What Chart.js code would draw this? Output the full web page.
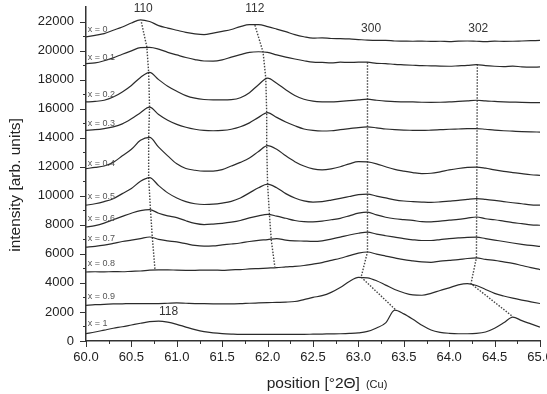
<!DOCTYPE html>
<html><head><meta charset="utf-8">
<script src="https://cdn.jsdelivr.net/npm/chart.js@4/dist/chart.umd.min.js"></script>
<style>html,body{margin:0;padding:0;background:#fff}canvas{display:block}</style>
</head><body>
<canvas id="c" width="547" height="394"></canvas>
<script>
// ---- DATA ----
const positions = [60.0,60.1,60.2,60.3,60.4,60.5,60.6,60.7,60.8,60.9,
  61.0,61.1,61.2,61.3,61.4,61.5,61.6,61.7,61.8,61.9,
  62.0,62.1,62.2,62.3,62.4,62.5,62.6,62.7,62.8,62.9,
  63.0,63.1,63.2,63.3,63.4,63.5,63.6,63.7,63.8,63.9,
  64.0,64.1,64.2,64.3,64.4,64.5,64.6,64.7,64.8,64.9,65.0];

const seriesLabels = ['x = 0','x = 0.1','x = 0.2','x = 0.3','x = 0.4','x = 0.5','x = 0.6','x = 0.7','x = 0.8','x = 0.9','x = 1'];

const int_x00 = [20940,21050,21170,21400,21620,21900,22120,22000,21720,21550,
  21400,21250,21150,21100,21200,21320,21450,21650,21780,21780,
  21650,21480,21300,21100,20950,20850,20880,20830,20820,20800,
  20760,20720,20700,20700,20660,20650,20640,20650,20630,20640,
  20620,20650,20660,20640,20620,20650,20630,20640,20660,20680,20700];
const int_x01 = [19100,19150,19300,19500,19750,19980,20200,20220,20100,19880,
  19700,19520,19380,19280,19270,19360,19550,19720,19880,19920,
  19880,19700,19550,19420,19300,19200,19180,19150,19200,19180,
  19200,19200,19120,19100,19050,19020,18990,18960,18950,18930,
  18920,18950,18980,19030,18960,18920,18900,18930,18880,18860,18870];
const int_x02 = [16460,16500,16580,16800,17150,17600,18150,18500,18000,17550,
  17200,16900,16720,16630,16600,16600,16620,16750,17100,17650,
  18100,17750,17300,16900,16650,16520,16470,16460,16500,16550,
  16600,16650,16580,16520,16480,16470,16460,16440,16430,16440,
  16460,16500,16540,16580,16530,16500,16470,16450,16430,16420,16420];
const int_x03 = [14510,14550,14630,14750,14950,15300,15720,16100,15600,15200,
  14920,14720,14580,14500,14480,14500,14580,14750,15020,15400,
  15730,15400,15080,14820,14600,14500,14460,14480,14550,14620,
  14700,14740,14680,14600,14550,14520,14510,14500,14520,14550,
  14580,14600,14620,14630,14580,14520,14480,14450,14420,14400,14390];
const int_x04 = [11870,11950,12050,12300,12750,13200,13820,14020,13350,12750,
  12200,11880,11760,11700,11700,11800,12050,12300,12600,13050,
  13450,13200,12750,12350,12050,11850,11780,11850,12000,12200,
  12350,12330,12200,12000,11820,11700,11600,11530,11550,11650,
  11780,11880,11950,11980,11900,11780,11680,11600,11520,11450,11410];
const int_x05 = [9350,9450,9600,9800,10150,10500,11000,11250,10700,10200,
  9850,9600,9450,9400,9420,9500,9620,9850,10200,10550,
  10800,10550,10150,9850,9650,9570,9600,9700,9820,9950,
  10080,10120,9980,9850,9720,9640,9600,9570,9550,9580,
  9630,9680,9750,9800,9750,9680,9600,9520,9450,9380,9350];
const int_x06 = [7850,7950,8120,8350,8580,8800,8980,9050,8800,8620,
  8500,8280,8100,8020,8050,8100,8180,8300,8480,8620,
  8720,8600,8450,8300,8220,8200,8250,8350,8450,8620,
  8800,8880,8680,8520,8420,8360,8300,8220,8200,8250,
  8320,8380,8460,8540,8420,8350,8250,8150,8080,8000,7970];
const int_x07 = [6470,6520,6600,6720,6850,6950,7050,7160,7000,6900,
  6820,6700,6580,6530,6550,6620,6680,6750,6850,6930,
  6980,7050,6950,6900,6880,6860,6900,7020,7150,7300,
  7420,7500,7360,7250,7150,7050,6970,6920,6920,6980,
  7050,7100,7140,7150,7050,6950,6850,6750,6660,6580,6520];
const int_x08 = [4750,4770,4760,4780,4770,4800,4820,4880,4900,4900,
  4880,4870,4870,4880,4880,4870,4900,4920,4960,4990,
  5020,5050,5100,5140,5200,5300,5400,5550,5700,5880,
  6050,6130,5980,5850,5720,5600,5520,5450,5420,5500,
  5550,5600,5680,5720,5620,5550,5450,5350,5200,5050,4920];
const int_x09 = [2460,2500,2520,2550,2560,2580,2580,2570,2580,2600,
  2620,2600,2580,2570,2560,2550,2560,2570,2600,2620,
  2640,2660,2680,2720,2850,3000,3120,3350,3680,4100,
  4380,4350,4150,3850,3550,3320,3170,3150,3280,3480,
  3660,3860,3950,3820,3550,3280,3100,2950,2820,2700,2580];
const int_x10 = [510,620,750,880,980,1100,1220,1330,1370,1300,
  1150,960,780,640,560,510,480,460,460,450,
  450,450,450,460,460,470,480,490,500,520,
  560,660,900,1250,2120,1870,1500,1080,760,600,
  530,500,500,520,620,880,1250,1650,1400,1180,960];

// dotted peak-tracking guides
const guide110Pos = [60.61,60.67,60.69,60.70,60.69,60.69,60.71,60.73,60.76];
const guide110Int = [21950,20250,18500,16100,14050,11250,9050,7160,4900];
const guide112Pos = [61.86,61.95,61.98,61.99,61.99,62.00,62.02,62.04,62.08];
const guide112Int = [21750,19900,18100,15730,13480,10790,8730,6980,5100];
const guide300Pos = [63.10,63.10,63.03,63.41];
const guide300Int = [19200,6130,4400,2150];
const guide302Pos = [64.31,64.30,64.24,64.70];
const guide302Int = [19050,5740,3950,1680];

// annotations
const peakLabels = ['110','112','300','302','118'];
const peakLabelPos = [60.63,61.86,63.14,64.32,60.91];
const peakLabelInt = [22890,22890,21510,21510,2000];
const seriesLabelPos = 60.02;
const seriesLabelInt = [21450,19520,16990,14970,12220,9970,8430,7050,5370,3080,1200];

const xTitle = 'position [°2Θ]';
const xTitleNote = '(Cu)';
const yTitle = 'intensity [arb. units]';

// ---- CHART ----
const seriesValues = [int_x00,int_x01,int_x02,int_x03,int_x04,int_x05,int_x06,int_x07,int_x08,int_x09,int_x10];
const toPts = (xs, ys) => xs.map((p, i) => ({x: p, y: ys[i]}));

const datasets = seriesValues.map((vals, k) => ({
  label: seriesLabels[k],
  data: toPts(positions, vals),
  borderColor: '#2b2b2b',
  borderWidth: 1.2,
  pointRadius: 0,
  cubicInterpolationMode: 'monotone',
  fill: false
}));
[[guide110Pos,guide110Int],[guide112Pos,guide112Int],[guide300Pos,guide300Int],[guide302Pos,guide302Int]].forEach(([p,v]) => {
  datasets.push({
    label: 'guide',
    data: toPts(p, v),
    borderColor: '#444',
    borderWidth: 1.4,
    borderDash: [1.5, 1.5],
    pointRadius: 0,
    tension: 0,
    fill: false
  });
});

const FONT = '"Liberation Sans", Arial, sans-serif';

const deco = {
  id: 'deco',
  afterDraw(chart) {
    const ctx = chart.ctx, xs = chart.scales.x, ys = chart.scales.y;
    ctx.save();
    ctx.strokeStyle = '#333';
    ctx.lineWidth = 1;
    // y tick marks
    ys.ticks.forEach(t => {
      if (t.value > 22000) return;
      const p = Math.round(ys.getPixelForValue(t.value)) + 0.5;
      const L = (t.value % 2000 === 0) ? 6 : 3;
      ctx.beginPath(); ctx.moveTo(xs.left - L, p); ctx.lineTo(xs.left, p); ctx.stroke();
    });
    // x tick marks
    xs.ticks.forEach(t => {
      const p = Math.round(xs.getPixelForValue(t.value)) + 0.5;
      const major = Math.abs(t.value * 2 - Math.round(t.value * 2)) < 1e-6;
      const L = major ? 6 : 3;
      ctx.beginPath(); ctx.moveTo(p, ys.bottom); ctx.lineTo(p, ys.bottom + L); ctx.stroke();
    });
    // peak labels
    ctx.fillStyle = '#333';
    ctx.font = '12px ' + FONT;
    ctx.textAlign = 'center';
    ctx.textBaseline = 'middle';
    peakLabels.forEach((s, i) => {
      ctx.fillText(s, xs.getPixelForValue(peakLabelPos[i]), ys.getPixelForValue(peakLabelInt[i]));
    });
    // series labels
    ctx.fillStyle = '#555';
    ctx.font = '9px ' + FONT;
    ctx.textAlign = 'left';
    seriesLabels.forEach((s, i) => {
      ctx.fillText(s, xs.getPixelForValue(seriesLabelPos), ys.getPixelForValue(seriesLabelInt[i]));
    });
    // axis titles
    ctx.fillStyle = '#222';
    ctx.font = '15.5px ' + FONT;
    const w1 = ctx.measureText(xTitle).width;
    ctx.font = '11px ' + FONT;
    const w2 = ctx.measureText(xTitleNote).width;
    const gap = 6;
    const cx = 327;
    const x0 = cx - (w1 + gap + w2) / 2;
    ctx.textAlign = 'left';
    ctx.textBaseline = 'alphabetic';
    ctx.font = '15.5px ' + FONT;
    ctx.fillText(xTitle, x0, 388);
    ctx.font = '11px ' + FONT;
    ctx.fillText(xTitleNote, x0 + w1 + gap, 388);
    ctx.font = '15.5px ' + FONT;
    ctx.translate(16, 185);
    ctx.rotate(-Math.PI / 2);
    ctx.textAlign = 'center';
    ctx.textBaseline = 'middle';
    ctx.fillText(yTitle, 0, 0);
    ctx.restore();
  }
};

new Chart(document.getElementById('c'), {
  type: 'line',
  data: { datasets },
  options: {
    responsive: false,
    animation: false,
    devicePixelRatio: 1,
    layout: { padding: { top: 7, right: 7, left: 0, bottom: 0 } },
    plugins: { legend: { display: false }, tooltip: { enabled: false } },
    scales: {
      x: {
        type: 'linear', min: 60, max: 65,
        grid: { display: false, drawTicks: false },
        border: { display: true, color: '#333', width: 1.5 },
        ticks: {
          stepSize: 0.25, autoSkip: false, maxRotation: 0, padding: 9,
          color: '#222', font: { size: 13, family: FONT },
          callback: v => (Math.abs(v * 2 - Math.round(v * 2)) < 1e-6) ? v.toFixed(1) : ''
        },
        afterFit: s => { s.height = 53; s.paddingLeft = 0; s.paddingRight = 0; }
      },
      y: {
        type: 'linear', min: 0, max: 23000,
        grid: { display: false, drawTicks: false },
        border: { display: true, color: '#333', width: 1.5 },
        ticks: {
          stepSize: 1000, autoSkip: false, padding: 12,
          color: '#222', font: { size: 13, family: FONT },
          callback: v => (v % 2000 === 0 && v <= 22000) ? String(v) : ''
        },
        afterFit: s => { s.width = 86; s.paddingTop = 0; s.paddingBottom = 0; }
      }
    }
  },
  plugins: [deco]
});
</script>
</body></html>
